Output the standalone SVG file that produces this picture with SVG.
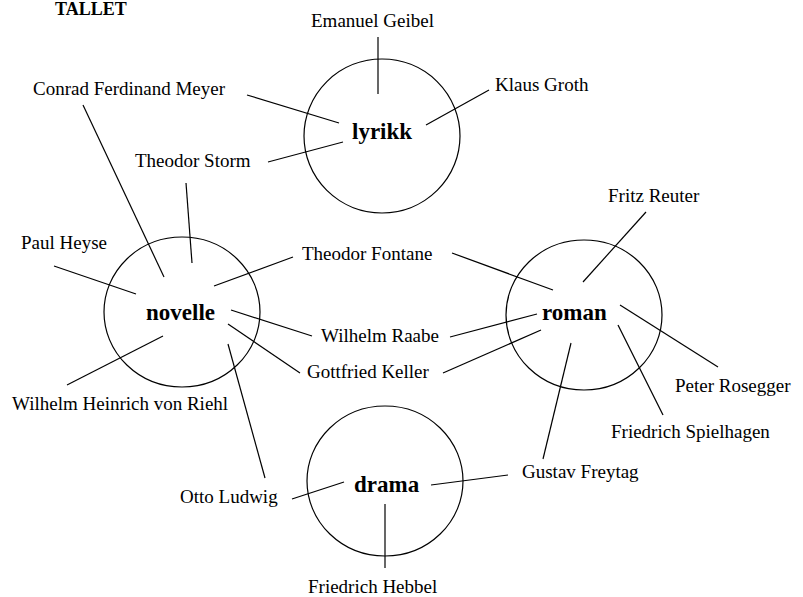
<svg xmlns="http://www.w3.org/2000/svg" width="803" height="597" viewBox="0 0 803 597">
<style>
.bg{fill:#fff}
.c{fill:none;stroke:#000;stroke-width:1.2}
.l{stroke:#000;stroke-width:1.2;fill:none}
.n{font-family:"Liberation Serif","Times New Roman",serif;font-size:19px;fill:#000}
.h{font-family:"Liberation Serif","Times New Roman",serif;font-size:23px;font-weight:bold;fill:#000}
.t{font-family:"Liberation Serif","Times New Roman",serif;font-size:18px;font-weight:bold;fill:#000}
</style>
<rect class="bg" x="0" y="0" width="803" height="597"/>
<text class="t" x="55" y="15">TALLET</text>
<g id="connectors">
<line class="l" x1="378" y1="37" x2="378" y2="94"/>
<line class="l" x1="489" y1="90" x2="426" y2="125"/>
<line class="l" x1="247" y1="95" x2="339" y2="123"/>
<line class="l" x1="268" y1="162" x2="343" y2="142"/>
<line class="l" x1="83" y1="105" x2="164" y2="277"/>
<line class="l" x1="186" y1="183" x2="192" y2="263"/>
<line class="l" x1="54" y1="266" x2="136" y2="294"/>
<line class="l" x1="293" y1="257" x2="214" y2="286"/>
<line class="l" x1="452" y1="253" x2="553" y2="290"/>
<line class="l" x1="312" y1="336" x2="231" y2="310"/>
<line class="l" x1="450" y1="337" x2="537" y2="314"/>
<line class="l" x1="300" y1="373" x2="228" y2="324"/>
<line class="l" x1="443" y1="373" x2="541" y2="330"/>
<line class="l" x1="67" y1="385" x2="163" y2="336"/>
<line class="l" x1="228" y1="344" x2="265" y2="478"/>
<line class="l" x1="292" y1="499" x2="344" y2="482"/>
<line class="l" x1="431" y1="485" x2="508" y2="475"/>
<line class="l" x1="571" y1="343" x2="543" y2="459"/>
<line class="l" x1="385" y1="504" x2="385" y2="568"/>
<line class="l" x1="646" y1="212" x2="583" y2="282"/>
<line class="l" x1="620" y1="305" x2="718" y2="367"/>
<line class="l" x1="618" y1="325" x2="663" y2="415"/>
</g>
<g id="lyrikk">
<ellipse class="c" cx="382" cy="136" rx="78" ry="77"/>
<text class="h" x="352" y="139">lyrikk</text>
</g>
<g id="novelle">
<ellipse class="c" cx="182" cy="312" rx="78" ry="75"/>
<text class="h" x="146" y="320">novelle</text>
</g>
<g id="roman">
<ellipse class="c" cx="584" cy="315" rx="78" ry="75"/>
<text class="h" x="542" y="320">roman</text>
</g>
<g id="drama">
<ellipse class="c" cx="385" cy="481" rx="78" ry="75"/>
<text class="h" x="354" y="492">drama</text>
</g>
<g id="emanuel-geibel"><text class="n" x="311" y="27">Emanuel Geibel</text></g>
<g id="klaus-groth"><text class="n" x="495" y="91">Klaus Groth</text></g>
<g id="conrad-ferdinand-meyer"><text class="n" x="33" y="95">Conrad Ferdinand Meyer</text></g>
<g id="theodor-storm"><text class="n" x="135" y="167">Theodor Storm</text></g>
<g id="paul-heyse"><text class="n" x="21" y="249">Paul Heyse</text></g>
<g id="theodor-fontane"><text class="n" x="302" y="260">Theodor Fontane</text></g>
<g id="wilhelm-raabe"><text class="n" x="321" y="342">Wilhelm Raabe</text></g>
<g id="gottfried-keller"><text class="n" x="307" y="378">Gottfried Keller</text></g>
<g id="wilhelm-heinrich-von-riehl"><text class="n" x="12" y="410">Wilhelm Heinrich von Riehl</text></g>
<g id="otto-ludwig"><text class="n" x="180" y="503">Otto Ludwig</text></g>
<g id="gustav-freytag"><text class="n" x="522" y="478">Gustav Freytag</text></g>
<g id="friedrich-hebbel"><text class="n" x="308" y="593">Friedrich Hebbel</text></g>
<g id="fritz-reuter"><text class="n" x="608" y="202">Fritz Reuter</text></g>
<g id="peter-rosegger"><text class="n" x="675" y="392">Peter Rosegger</text></g>
<g id="friedrich-spielhagen"><text class="n" x="611" y="438">Friedrich Spielhagen</text></g>
</svg>
